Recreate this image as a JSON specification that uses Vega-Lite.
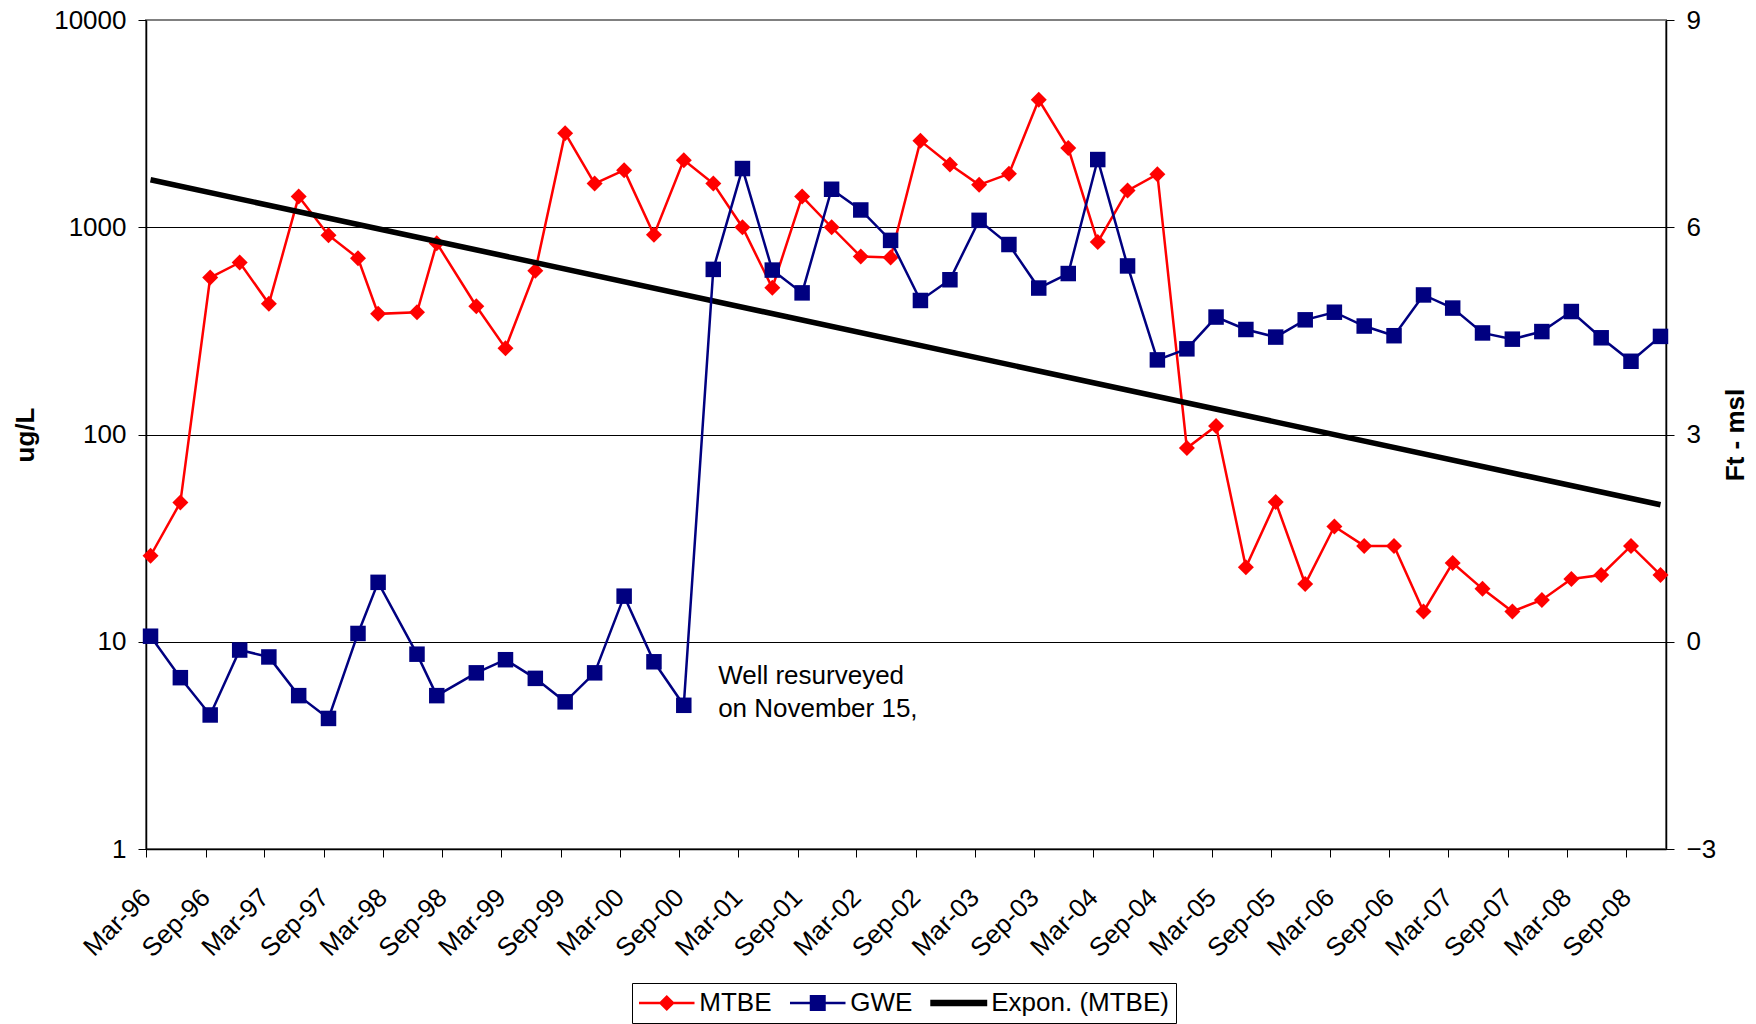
{
  "$schema": "https://vega.github.io/schema/vega-lite/v6.json",
  "autosize": {"type": "none"},
  "padding": {"left": 146, "top": 20, "right": 90, "bottom": 175},
  "width": 1520,
  "height": 829,
  "background": "#ffffff",
  "datasets": {
    "samples": [
      {"date": "1996-03-15", "mtbe": 26, "gwe": 0.08},
      {"date": "1996-06-15", "mtbe": 47, "gwe": -0.52},
      {"date": "1996-09-15", "mtbe": 572, "gwe": -1.06},
      {"date": "1996-12-15", "mtbe": 676, "gwe": -0.12},
      {"date": "1997-03-15", "mtbe": 427, "gwe": -0.22},
      {"date": "1997-06-15", "mtbe": 1406, "gwe": -0.78},
      {"date": "1997-09-15", "mtbe": 916, "gwe": -1.11},
      {"date": "1997-12-15", "mtbe": 709, "gwe": 0.12},
      {"date": "1998-02-15", "mtbe": 382, "gwe": 0.86},
      {"date": "1998-06-15", "mtbe": 389, "gwe": -0.18},
      {"date": "1998-08-15", "mtbe": 838, "gwe": -0.78},
      {"date": "1998-12-15", "mtbe": 416, "gwe": -0.45},
      {"date": "1999-03-15", "mtbe": 261, "gwe": -0.26},
      {"date": "1999-06-15", "mtbe": 616, "gwe": -0.53},
      {"date": "1999-09-15", "mtbe": 2844, "gwe": -0.87},
      {"date": "1999-12-15", "mtbe": 1625, "gwe": -0.45},
      {"date": "2000-03-15", "mtbe": 1885, "gwe": 0.66},
      {"date": "2000-06-15", "mtbe": 919, "gwe": -0.29},
      {"date": "2000-09-15", "mtbe": 2108, "gwe": -0.92},
      {"date": "2000-12-15", "mtbe": 1625, "gwe": 5.39},
      {"date": "2001-03-15", "mtbe": 1000, "gwe": 6.85},
      {"date": "2001-06-15", "mtbe": 510, "gwe": 5.38},
      {"date": "2001-09-15", "mtbe": 1406, "gwe": 5.05},
      {"date": "2001-12-15", "mtbe": 1000, "gwe": 6.55},
      {"date": "2002-03-15", "mtbe": 722, "gwe": 6.25},
      {"date": "2002-06-15", "mtbe": 715, "gwe": 5.81},
      {"date": "2002-09-15", "mtbe": 2611, "gwe": 4.94},
      {"date": "2002-12-15", "mtbe": 2006, "gwe": 5.24},
      {"date": "2003-03-15", "mtbe": 1602, "gwe": 6.10},
      {"date": "2003-06-15", "mtbe": 1810, "gwe": 5.75},
      {"date": "2003-09-15", "mtbe": 4118, "gwe": 5.12},
      {"date": "2003-12-15", "mtbe": 2409, "gwe": 5.33},
      {"date": "2004-03-15", "mtbe": 848, "gwe": 6.98},
      {"date": "2004-06-15", "mtbe": 1503, "gwe": 5.44},
      {"date": "2004-09-15", "mtbe": 1804, "gwe": 4.08},
      {"date": "2004-12-15", "mtbe": 86, "gwe": 4.24},
      {"date": "2005-03-15", "mtbe": 110, "gwe": 4.70},
      {"date": "2005-06-15", "mtbe": 22.9, "gwe": 4.52},
      {"date": "2005-09-15", "mtbe": 47.2, "gwe": 4.41},
      {"date": "2005-12-15", "mtbe": 19.0, "gwe": 4.66},
      {"date": "2006-03-15", "mtbe": 36.0, "gwe": 4.77},
      {"date": "2006-06-15", "mtbe": 29.0, "gwe": 4.57},
      {"date": "2006-09-15", "mtbe": 29.0, "gwe": 4.43},
      {"date": "2006-12-15", "mtbe": 14.0, "gwe": 5.02},
      {"date": "2007-03-15", "mtbe": 24.0, "gwe": 4.83},
      {"date": "2007-06-15", "mtbe": 18.0, "gwe": 4.47},
      {"date": "2007-09-15", "mtbe": 14.0, "gwe": 4.38},
      {"date": "2007-12-15", "mtbe": 15.9, "gwe": 4.49},
      {"date": "2008-03-15", "mtbe": 20.1, "gwe": 4.78},
      {"date": "2008-06-15", "mtbe": 21.0, "gwe": 4.40},
      {"date": "2008-09-15", "mtbe": 29.0, "gwe": 4.06},
      {"date": "2008-12-15", "mtbe": 21.0, "gwe": 4.42}
    ],
    "trend": [
      {"date": "1996-03-15", "mtbe": 1694},
      {"date": "2008-12-15", "mtbe": 45.8}
    ],
    "note": [
      {"date": "2000-12-30", "gwe": -0.50, "label": "Well resurveyed"},
      {"date": "2000-12-30", "gwe": -0.98, "label": "on November 15,"}
    ],
    "legend": []
  },
  "encoding": {
    "x": {
      "field": "date",
      "type": "temporal",
      "scale": {
        "type": "utc",
        "domain": [
          {"year": 1996, "month": 3, "date": 1, "utc": true},
          {"year": 2009, "month": 1, "date": 1, "utc": true}
        ]
      },
      "axis": {
        "title": null,
        "grid": false,
        "format": "%b-%y",
        "labelAngle": -45,
        "labelAlign": "right",
        "labelBaseline": "middle",
        "labelPadding": 36,
        "labelFontSize": 26,
        "labelOverlap": false,
        "labelFlush": false,
        "labelBound": false,
        "tickSize": 8,
        "values": [
          {"year": 1996, "month": 3, "date": 1, "utc": true},
          {"year": 1996, "month": 9, "date": 1, "utc": true},
          {"year": 1997, "month": 3, "date": 1, "utc": true},
          {"year": 1997, "month": 9, "date": 1, "utc": true},
          {"year": 1998, "month": 3, "date": 1, "utc": true},
          {"year": 1998, "month": 9, "date": 1, "utc": true},
          {"year": 1999, "month": 3, "date": 1, "utc": true},
          {"year": 1999, "month": 9, "date": 1, "utc": true},
          {"year": 2000, "month": 3, "date": 1, "utc": true},
          {"year": 2000, "month": 9, "date": 1, "utc": true},
          {"year": 2001, "month": 3, "date": 1, "utc": true},
          {"year": 2001, "month": 9, "date": 1, "utc": true},
          {"year": 2002, "month": 3, "date": 1, "utc": true},
          {"year": 2002, "month": 9, "date": 1, "utc": true},
          {"year": 2003, "month": 3, "date": 1, "utc": true},
          {"year": 2003, "month": 9, "date": 1, "utc": true},
          {"year": 2004, "month": 3, "date": 1, "utc": true},
          {"year": 2004, "month": 9, "date": 1, "utc": true},
          {"year": 2005, "month": 3, "date": 1, "utc": true},
          {"year": 2005, "month": 9, "date": 1, "utc": true},
          {"year": 2006, "month": 3, "date": 1, "utc": true},
          {"year": 2006, "month": 9, "date": 1, "utc": true},
          {"year": 2007, "month": 3, "date": 1, "utc": true},
          {"year": 2007, "month": 9, "date": 1, "utc": true},
          {"year": 2008, "month": 3, "date": 1, "utc": true},
          {"year": 2008, "month": 9, "date": 1, "utc": true}
        ]
      }
    }
  },
  "layer": [
    {
      "layer": [
        {
          "data": {"name": "samples"},
          "mark": {"type": "line", "color": "#FF0000", "strokeWidth": 2.5},
          "encoding": {
            "y": {
              "field": "mtbe",
              "type": "quantitative",
              "scale": {"type": "log", "domain": [1, 10000], "nice": false},
              "axis": {
                "title": "ug/L",
                "orient": "left",
                "values": [1, 10, 100, 1000, 10000],
                "format": "d",
                "grid": true,
                "gridColor": {"condition": {"test": "datum.value === 10000", "value": "#808080"}, "value": "#000000"},
                "gridWidth": 1,
                "tickSize": 8,
                "labelPadding": 12,
                "titleX": -121,
                "titleY": 414.5,
                "titleAngle": 270,
                "titleAlign": "center",
                "titleBaseline": "middle"
              }
            }
          }
        },
        {
          "data": {"name": "samples"},
          "mark": {"type": "point", "shape": "diamond", "filled": true, "size": 256, "color": "#FF0000", "opacity": 1},
          "encoding": {
            "y": {"field": "mtbe", "type": "quantitative", "scale": {"type": "log", "domain": [1, 10000], "nice": false}}
          }
        },
        {
          "data": {"name": "trend"},
          "mark": {"type": "line", "color": "#000000", "strokeWidth": 5.5},
          "encoding": {
            "y": {"field": "mtbe", "type": "quantitative", "scale": {"type": "log", "domain": [1, 10000], "nice": false}}
          }
        },
        {
          "data": {"name": "legend"},
          "mark": {"type": "point", "filled": true, "opacity": 1},
          "encoding": {
            "color": {
              "field": "series",
              "type": "nominal",
              "scale": {"domain": ["MTBE", "GWE", "Expon. (MTBE)"], "range": ["#FF0000", "#000080", "#000000"]},
              "legend": {
                "title": null,
                "orient": "none",
                "legendX": 486,
                "legendY": 963,
                "direction": "horizontal",
                "symbolSize": 676,
                "symbolStrokeWidth": 0,
                "symbolOpacity": 1,
                "symbolOffset": 14.75,
                "labelOffset": 19.5,
                "labelFontSize": 26,
                "labelFont": "Liberation Sans",
                "labelColor": "#000000",
                "labelLimit": 0,
                "columnPadding": 17,
                "padding": 7,
                "strokeColor": "#000000",
                "fillColor": "#ffffff"
              }
            },
            "shape": {
              "field": "series",
              "type": "nominal",
              "scale": {
                "domain": ["MTBE", "GWE", "Expon. (MTBE)"],
                "range": [
                  "M-2.135,-0.104H2.135V0.104H-2.135Z M0,-0.62L0.62,0L0,0.62L-0.62,0Z",
                  "M-2.135,-0.104H2.135V0.104H-2.135Z M-0.615,-0.615H0.615V0.615H-0.615Z",
                  "M-2.19,-0.254H2.19V0.254H-2.19Z"
                ]
              }
            }
          }
        }
      ]
    },
    {
      "layer": [
        {
          "data": {"name": "samples"},
          "mark": {"type": "line", "color": "#000080", "strokeWidth": 2.5},
          "encoding": {
            "y": {
              "field": "gwe",
              "type": "quantitative",
              "scale": {"domain": [-3, 9], "nice": false, "zero": false},
              "axis": {
                "title": "Ft - msl",
                "orient": "right",
                "values": [-3, 0, 3, 6, 9],
                "format": "d",
                "grid": false,
                "tickSize": 8,
                "labelPadding": 12,
                "titleX": 69.5,
                "titleY": 414.5,
                "titleAngle": 270,
                "titleAlign": "center",
                "titleBaseline": "middle"
              }
            }
          }
        },
        {
          "data": {"name": "samples"},
          "mark": {"type": "point", "shape": "square", "filled": true, "size": 240, "color": "#000080", "opacity": 1},
          "encoding": {
            "y": {"field": "gwe", "type": "quantitative", "scale": {"domain": [-3, 9], "nice": false, "zero": false}}
          }
        },
        {
          "data": {"name": "note"},
          "mark": {"type": "text", "align": "left", "baseline": "middle", "fontSize": 26, "font": "Liberation Sans", "color": "#000000"},
          "encoding": {
            "y": {"field": "gwe", "type": "quantitative", "scale": {"domain": [-3, 9], "nice": false, "zero": false}},
            "text": {"field": "label", "type": "nominal"}
          }
        }
      ]
    }
  ],
  "resolve": {"scale": {"y": "independent"}, "axis": {"y": "independent"}},
  "config": {
    "font": "Liberation Sans",
    "view": {"stroke": "#808080", "strokeWidth": 2},
    "axis": {
      "labelFont": "Liberation Sans",
      "labelFontSize": 26,
      "labelColor": "#000000",
      "titleFont": "Liberation Sans",
      "titleFontSize": 26,
      "titleFontWeight": "bold",
      "titleColor": "#000000",
      "domainColor": "#000000",
      "domainWidth": 1.5,
      "tickColor": "#000000",
      "tickWidth": 1
    }
  }
}
